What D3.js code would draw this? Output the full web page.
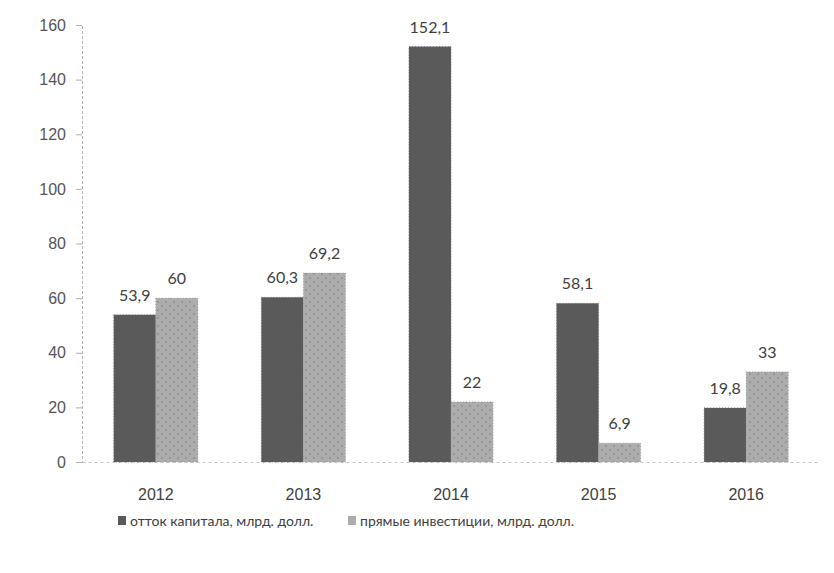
<!DOCTYPE html>
<html>
<head>
<meta charset="utf-8">
<script src="https://cdn.jsdelivr.net/npm/d3@7"></script>
<style>
  html, body { margin: 0; padding: 0; background: #fff; }
  svg { display: block; font-family: Lato, "Open Sans", sans-serif; }
</style>
</head>
<body>
<svg id="chart" width="834" height="573"></svg>
<script>
// Capital outflow vs. direct investment, bn USD
const years = ["2012", "2013", "2014", "2015", "2016"];
const outflow = [53.9, 60.3, 152.1, 58.1, 19.8];
const investment = [60, 69.2, 22, 6.9, 33];
const seriesNames = ["отток капитала, млрд. долл.", "прямые инвестиции, млрд. долл."];
const yTicks = [0, 20, 40, 60, 80, 100, 120, 140, 160];

const svg = d3.select("#chart");
const margin = { left: 82, right: 14, top: 25, bottom: 111 };
const W = 834, H = 573;

const x = d3.scaleBand().domain(years).range([margin.left, W - margin.right]).paddingInner(0.43).paddingOuter(0.215);
const xs = d3.scaleBand().domain([0, 1]).range([0, x.bandwidth()]);
const y = d3.scaleLinear().domain([0, 160]).range([H - margin.bottom, margin.top]);

// dotted fill for the investment series
const defs = svg.append("defs");
const pat = defs.append("pattern").attr("id", "dots").attr("patternUnits", "userSpaceOnUse")
  .attr("width", 8).attr("height", 8);
pat.append("rect").attr("width", 8).attr("height", 8).attr("fill", "#acacac");
pat.append("circle").attr("cx", 2).attr("cy", 2).attr("r", 0.8).attr("fill", "#7e7e7e");
pat.append("circle").attr("cx", 6).attr("cy", 6).attr("r", 0.8).attr("fill", "#7e7e7e");

// y axis
const yAxis = d3.axisLeft(y).tickValues(yTicks).tickSize(6).tickPadding(10);
const gy = svg.append("g").attr("transform", `translate(${margin.left},0)`).call(yAxis);
gy.select(".domain").attr("stroke", "#b0b0b0").attr("stroke-dasharray", "3,2");
gy.selectAll(".tick line").attr("stroke", "#b0b0b0");
gy.selectAll(".tick text").attr("fill", "#555").attr("font-size", 16);

// x axis
const xAxis = d3.axisBottom(x).tickSize(0).tickPadding(27);
const gx = svg.append("g").attr("transform", `translate(0,${y(0)})`).call(xAxis);
gx.select(".domain").attr("stroke", "#c8c8c8").attr("stroke-dasharray", "3,3");
gx.selectAll(".tick text").attr("fill", "#404040").attr("font-size", 16);

const series = [
  { vals: outflow, fill: "#5a5a5a", stroke: "#6a6a6a" },
  { vals: investment, fill: "url(#dots)", stroke: "#9a9a9a" }
];

series.forEach((s, si) => {
  const g = svg.append("g");
  g.selectAll("rect").data(years).join("rect")
    .attr("x", d => x(d) + xs(si))
    .attr("y", (d, i) => y(s.vals[i]))
    .attr("width", xs.bandwidth())
    .attr("height", (d, i) => y(0) - y(s.vals[i]))
    .attr("fill", s.fill)
    .attr("stroke", s.stroke)
    .attr("stroke-width", 0.8)
    .attr("stroke-dasharray", "1,2");
  g.selectAll("text").data(years).join("text")
    .attr("x", d => x(d) + xs(si) + xs.bandwidth() / 2)
    .attr("y", (d, i) => y(s.vals[i]) - 14)
    .attr("text-anchor", "middle")
    .attr("font-size", 16)
    .attr("fill", "#404040")
    .text((d, i) => String(s.vals[i]).replace(".", ","));
});

// legend
const legend = svg.append("g").attr("transform", "translate(0,521)");
const lx = [118, 348];
seriesNames.forEach((name, i) => {
  legend.append("rect").attr("x", lx[i]).attr("y", -5).attr("width", 8).attr("height", 9)
    .attr("fill", i === 0 ? "#5a5a5a" : "#acacac");
  legend.append("text").attr("x", lx[i] + 12).attr("y", 0).attr("dy", "0.35em")
    .attr("font-size", 14).attr("fill", "#404040").text(name);
});
</script>
</body>
</html>
